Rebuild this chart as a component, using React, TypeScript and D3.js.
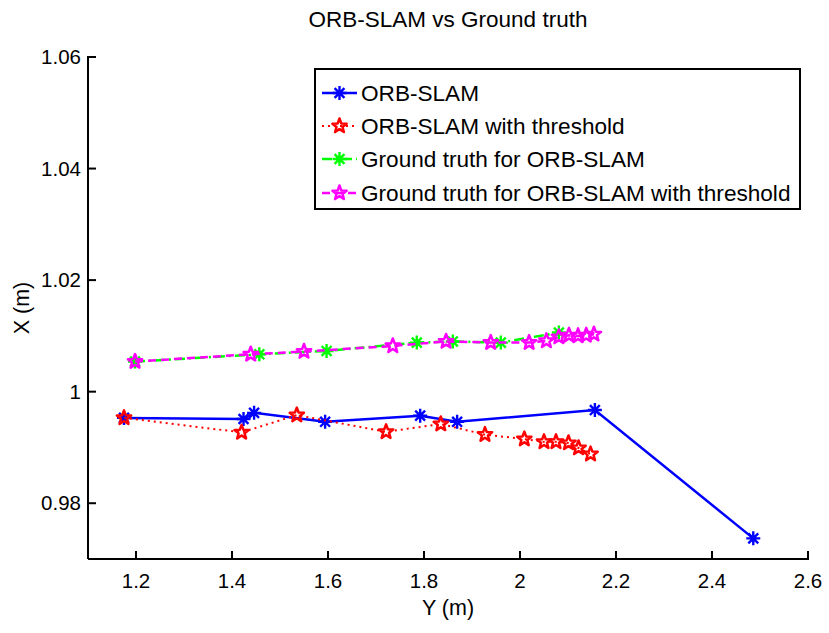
import React from "react";
import * as d3 from "d3";

// ORB-SLAM
const orbY = [1.175, 1.424, 1.446, 1.594, 1.792, 1.869, 2.156, 2.486];
const orbX = [0.9953, 0.9951, 0.9962, 0.9946, 0.9957, 0.9946, 0.9967, 0.9737];
// ORB-SLAM with threshold
const thrY = [1.175, 1.42, 1.535, 1.721, 1.835, 1.927, 2.009, 2.05, 2.075, 2.101, 2.122, 2.147];
const thrX = [0.9953, 0.9927, 0.9958, 0.9928, 0.9942, 0.9923, 0.9915, 0.991, 0.991, 0.9908, 0.9899, 0.9888];
// Ground truth for ORB-SLAM
const gtY = [1.198, 1.457, 1.597, 1.785, 1.86, 1.96, 2.081];
const gtX = [1.0054, 1.0067, 1.0073, 1.0088, 1.009, 1.0088, 1.0106];
// Ground truth for ORB-SLAM with threshold
const gtThrY = [1.198, 1.439, 1.55, 1.735, 1.846, 1.939, 2.019, 2.055, 2.081, 2.102, 2.121, 2.138, 2.154];
const gtThrX = [1.0054, 1.0067, 1.0072, 1.0082, 1.009, 1.0088, 1.0088, 1.0091, 1.0098, 1.0101, 1.01, 1.0101, 1.0103];

const xTicks = [1.2, 1.4, 1.6, 1.8, 2, 2.2, 2.4, 2.6];
const yTicks = [0.98, 1, 1.02, 1.04, 1.06];
const legendLabels = [
  "ORB-SLAM",
  "ORB-SLAM with threshold",
  "Ground truth for ORB-SLAM",
  "Ground truth for ORB-SLAM with threshold",
];

const W = 829;
const H = 633;
const L = 88, R = 808, T = 57, B = 559;
const FONT = "'Liberation Sans', Arial, Helvetica, sans-serif";

const asterisk = (r: number) => {
  const a = r * Math.SQRT1_2;
  return `M${-r},0L${r},0M0,${-r}L0,${r}M${-a},${-a}L${a},${a}M${-a},${a}L${a},${-a}`;
};
const pentagram = (R0: number) => {
  const r0 = R0 * 0.42;
  const pts: string[] = [];
  for (let i = 0; i < 10; i++) {
    const ang = -Math.PI / 2 + (i * Math.PI) / 5;
    const rr = i % 2 === 0 ? R0 : r0;
    pts.push(`${(rr * Math.cos(ang)).toFixed(2)},${(rr * Math.sin(ang)).toFixed(2)}`);
  }
  return "M" + pts.join("L") + "Z";
};

type Series = {
  xs: number[];
  ys: number[];
  color: string;
  dash: string | undefined;
  width: number;
  marker: "ast" | "pent";
};

const series: Series[] = [
  { xs: orbY, ys: orbX, color: "#0000ff", dash: undefined, width: 2.5, marker: "ast" },
  { xs: thrY, ys: thrX, color: "#ff0000", dash: "2,4", width: 2, marker: "pent" },
  { xs: gtY, ys: gtX, color: "#00ff00", dash: "10,4,2,4", width: 2.5, marker: "ast" },
  { xs: gtThrY, ys: gtThrX, color: "#ff00ff", dash: "8,5", width: 2.5, marker: "pent" },
];

export default function App() {
  const x = d3.scaleLinear().domain([1.1, 2.6]).range([L, R]);
  const y = d3.scaleLinear().domain([0.97, 1.06]).range([B, T]);
  const line = d3
    .line<[number, number]>()
    .x((d) => x(d[0]))
    .y((d) => y(d[1]));

  const markerEl = (m: "ast" | "pent", color: string, cx: number, cy: number, key: any) =>
    m === "ast" ? (
      <path key={key} d={asterisk(7)} transform={`translate(${cx},${cy})`} stroke={color} strokeWidth={2.4} fill="none" />
    ) : (
      <path key={key} d={pentagram(7.5)} transform={`translate(${cx},${cy})`} stroke={color} strokeWidth={2.5} fill="none" strokeLinejoin="round" />
    );

  const legX = 315, legY = 69, legW = 485, legH = 140;
  const rowY = [93, 126, 159, 193];

  return (
    <svg width={W} height={H} style={{ position: "absolute", left: 0, top: 0, background: "#fff" }} fontFamily={FONT}>
      <rect x={0} y={0} width={W} height={H} fill="#fff" />
      <text x={(L + R) / 2} y={27} textAnchor="middle" fontSize={22.5} fill="#000">
        ORB-SLAM vs Ground truth
      </text>

      {series.map((s, i) => (
        <g key={i}>
          <path
            d={line(s.xs.map((v, j) => [v, s.ys[j]] as [number, number])) || ""}
            fill="none"
            stroke={s.color}
            strokeWidth={s.width}
            strokeDasharray={s.dash}
          />
          {s.xs.map((v, j) => markerEl(s.marker, s.color, x(v), y(s.ys[j]), j))}
        </g>
      ))}

      {/* axes */}
      <g stroke="#000" strokeWidth={2} fill="none">
        <line x1={L} y1={B} x2={R + 1} y2={B} />
        <line x1={L} y1={T - 1} x2={L} y2={B} />
        {xTicks.map((t) => (
          <line key={t} x1={x(t)} x2={x(t)} y1={B} y2={B - 8} />
        ))}
        {yTicks.map((t) => (
          <line key={t} x1={L} x2={L + 8} y1={y(t)} y2={y(t)} />
        ))}
      </g>
      {xTicks.map((t) => (
        <text key={t} x={x(t)} y={B + 29} textAnchor="middle" fontSize={20.5} fill="#000">
          {d3.format("~g")(t)}
        </text>
      ))}
      {yTicks.map((t) => (
        <text key={t} x={L - 7} y={y(t) + 7} textAnchor="end" fontSize={20.5} fill="#000">
          {d3.format("~g")(t)}
        </text>
      ))}
      <text x={(L + R) / 2} y={615} textAnchor="middle" fontSize={21.5} fill="#000">
        Y (m)
      </text>
      <text transform={`translate(29,${(T + B) / 2}) rotate(-90)`} textAnchor="middle" fontSize={21.5} fill="#000">
        X (m)
      </text>

      {/* legend */}
      <rect x={legX} y={legY} width={legW} height={legH} fill="#fff" stroke="#000" strokeWidth={2} />
      {series.map((s, i) => (
        <g key={i}>
          <line x1={322} x2={357} y1={rowY[i]} y2={rowY[i]} stroke={s.color} strokeWidth={s.width} strokeDasharray={s.dash} />
          {markerEl(s.marker, s.color, 339.5, rowY[i], "m")}
          <text x={361} y={rowY[i] + 8} fontSize={22.6} fill="#000">
            {legendLabels[i]}
          </text>
        </g>
      ))}
    </svg>
  );
}
